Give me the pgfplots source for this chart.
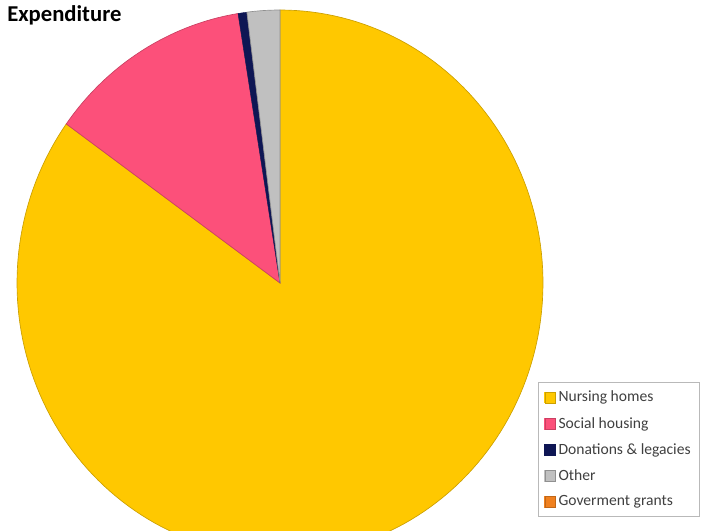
\documentclass[border=0pt]{standalone}
\usepackage{fontspec}
\setmainfont{Carlito}
\usepackage{pgfplots}
\usepackage{pgfplotstable}
\pgfplotsset{compat=1.18}
\definecolor{nurse}{RGB}{255,200,0}
\definecolor{social}{RGB}{252,80,122}
\definecolor{donat}{RGB}{14,22,84}
\definecolor{other}{RGB}{192,192,192}
\definecolor{govt}{RGB}{240,128,30}
\definecolor{legtext}{RGB}{64,64,64}

\pgfplotstableread{
label value
Nursing 84.90
Social 12.55
Donations 0.54
Other 2.01
Government 0.00
}\expdata

\begin{document}
\begin{tikzpicture}
\pgfplotstablegetelem{0}{value}\of\expdata \let\vA\pgfplotsretval
\pgfplotstablegetelem{1}{value}\of\expdata \let\vB\pgfplotsretval
\pgfplotstablegetelem{2}{value}\of\expdata \let\vC\pgfplotsretval
\pgfplotstablegetelem{3}{value}\of\expdata \let\vD\pgfplotsretval
\pgfmathsetmacro\aA{3.6*\vA}
\pgfmathsetmacro\aB{\aA+3.6*\vB}
\pgfmathsetmacro\aC{\aB+3.6*\vC}
\pgfmathsetmacro\aD{\aC+3.6*\vD}
\begin{axis}[
  scale only axis, width=527.25pt, height=398.25pt,
  xmin=0, xmax=703, ymin=0, ymax=531, y dir=reverse,
  hide axis, clip=true,
  legend style={at={(axis cs:538,382)}, anchor=north west,
    draw=gray!55, line width=0.6pt, fill=white,
    font=\fontsize{11.7}{13.5}\selectfont, text=legtext,
    row sep=6pt, inner xsep=4.5pt, inner ysep=4.5pt},
  legend cell align=left,
]
\addplot[forget plot, fill=nurse, draw=nurse!80!black, line width=0.5pt, domain=0:\aA, samples=180, variable=\t]
  ({280+263*sin(t)},{283-273*cos(t)}) -- (280,283) -- cycle;
\addplot[forget plot, fill=social, draw=social!80!black, line width=0.5pt, domain=\aA:\aB, samples=40, variable=\t]
  ({280+263*sin(t)},{283-273*cos(t)}) -- (280,283) -- cycle;
\addplot[forget plot, fill=donat, draw=donat, line width=0.3pt, domain=\aB:\aC, samples=5, variable=\t]
  ({280+263*sin(t)},{283-273*cos(t)}) -- (280,283) -- cycle;
\addplot[forget plot, fill=other, draw=other!75!black, line width=0.5pt, domain=\aC:\aD, samples=10, variable=\t]
  ({280+263*sin(t)},{283-273*cos(t)}) -- (280,283) -- cycle;

\addlegendimage{legend image code/.code={\fill[nurse] (0pt,-4pt) rectangle (8pt,4pt); \draw[nurse!80!black,line width=0.4pt] (0pt,-4pt) rectangle (8pt,4pt);}}
\addlegendentry{Nursing homes}
\addlegendimage{legend image code/.code={\fill[social] (0pt,-4pt) rectangle (8pt,4pt); \draw[social!80!black,line width=0.4pt] (0pt,-4pt) rectangle (8pt,4pt);}}
\addlegendentry{Social housing}
\addlegendimage{legend image code/.code={\fill[donat] (0pt,-4pt) rectangle (8pt,4pt);}}
\addlegendentry{Donations \& legacies}
\addlegendimage{legend image code/.code={\fill[other] (0pt,-4pt) rectangle (8pt,4pt); \draw[other!75!black,line width=0.4pt] (0pt,-4pt) rectangle (8pt,4pt);}}
\addlegendentry{Other}
\addlegendimage{legend image code/.code={\fill[govt] (0pt,-4pt) rectangle (8pt,4pt); \draw[govt!80!black,line width=0.4pt] (0pt,-4pt) rectangle (8pt,4pt);}}
\addlegendentry{Goverment grants}

\node[anchor=base west, font=\bfseries\fontsize{17}{19}\selectfont, inner sep=0pt] at (axis cs:7,22) {Expenditure};
\end{axis}
\pgfresetboundingbox
\path (current axis.south west) rectangle (current axis.north east);
\end{tikzpicture}
\end{document}
